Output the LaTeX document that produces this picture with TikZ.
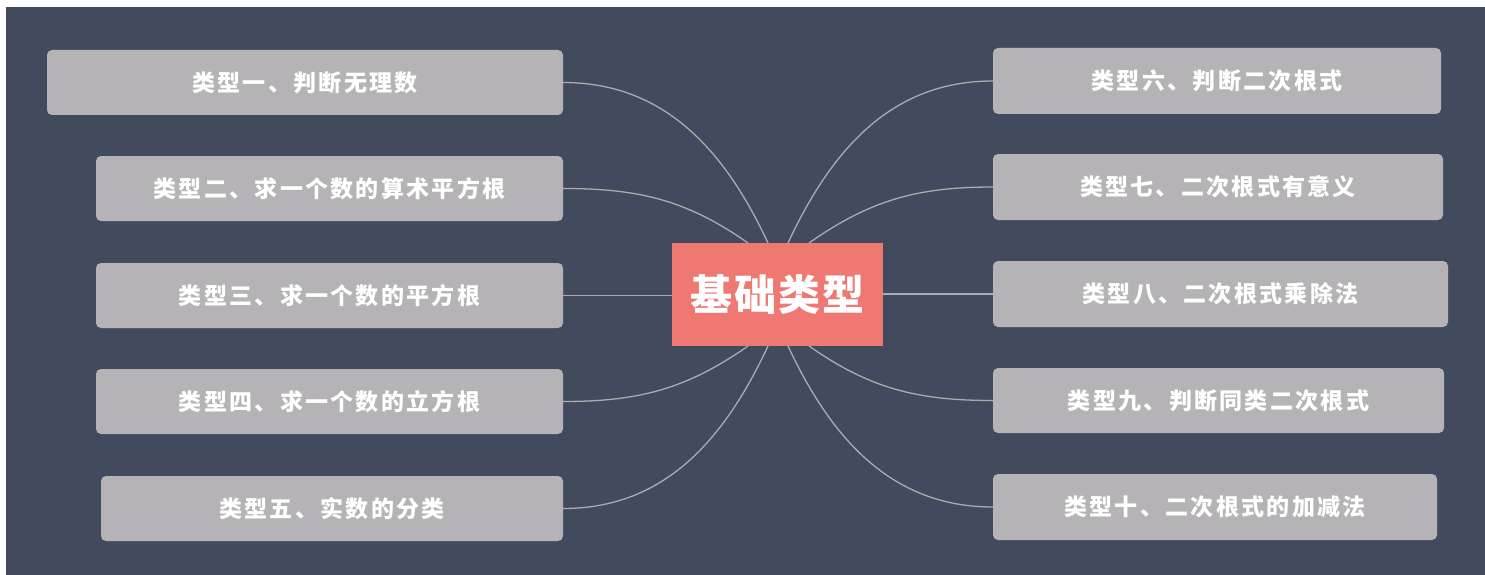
\documentclass[tikz,border=0pt]{standalone}
\usepackage{fontspec}
\newfontfamily\cjk[LetterSpace=10]{Noto Sans CJK SC}
\newfontfamily\cjkc[LetterSpace=4]{Noto Sans CJK SC}
\definecolor{bgdark}{HTML}{424B5E}
\definecolor{boxgray}{HTML}{B5B3B6}
\definecolor{linegray}{HTML}{ABABAE}
\definecolor{salmon}{HTML}{EF7872}
\tikzset{
  box/.style={fill=boxgray, rounded corners=5pt, text=white, inner sep=0pt,
    minimum height=65pt, font=\cjk\bfseries\fontsize{23}{26}\selectfont},
  center/.style={fill=salmon, text=white, inner sep=0pt, minimum width=211pt,
    minimum height=103pt, font=\cjkc\bfseries\fontsize{42}{46}\selectfont},
  conn/.style={draw=linegray, line width=1.3pt}
}
\begin{document}
\begin{tikzpicture}[x=1pt,y=-1pt]
\useasboundingbox (0,0) rectangle (1485,575);
\fill[white] (0,0) rectangle (1485,575);
\fill[bgdark] (6,7) rectangle (1485,575);

\node[center] (c) at (777.5,294.5) {基础类型};

\node[box, minimum width=516pt] (l1) at (305,82.5) {类型一、判断无理数};
\node[box, minimum width=467pt] (l2) at (329.5,188.5) {类型二、求一个数的算术平方根};
\node[box, minimum width=467pt] (l3) at (329.5,295.5) {类型三、求一个数的平方根};
\node[box, minimum width=467pt] (l4) at (329.5,401.5) {类型四、求一个数的立方根};
\node[box, minimum width=462pt] (l5) at (332,508.5) {类型五、实数的分类};

\node[box, minimum width=448pt, minimum height=66pt] (r6) at (1217,81) {类型六、判断二次根式};
\node[box, minimum width=450pt, minimum height=66pt] (r7) at (1218,187) {类型七、二次根式有意义};
\node[box, minimum width=455pt, minimum height=66pt] (r8) at (1220.5,294) {类型八、二次根式乘除法};
\node[box, minimum width=451pt] (r9) at (1218.5,400.5) {类型九、判断同类二次根式};
\node[box, minimum width=444pt, minimum height=66pt] (r10) at (1215,507) {类型十、二次根式的加减法};

\coordinate (t1) at (768,243);
\coordinate (t2) at (748,243);
\coordinate (t6) at (788,243);
\coordinate (t7) at (809,243);
\coordinate (b4) at (748,346);
\coordinate (b5) at (768,346);
\coordinate (b9) at (809,346);
\coordinate (b10) at (788,346);

\path[conn] (l1.east) to[out=0,in=115] (t1);
\path[conn] (l2.east) to[out=0,in=145] (t2);
\path[conn] (l3.east) -- (c.west |- l3.east);
\path[conn] (l4.east) to[out=0,in=215] (b4);
\path[conn] (l5.east) to[out=0,in=245] (b5);
\path[conn] (r6.west) to[out=180,in=65] (t6);
\path[conn] (r7.west) to[out=180,in=35] (t7);
\path[conn] (r8.west) -- (c.east |- r8.west);
\path[conn] (r9.west) to[out=180,in=-35] (b9);
\path[conn] (r10.west) to[out=180,in=-65] (b10);
\end{tikzpicture}
\end{document}
